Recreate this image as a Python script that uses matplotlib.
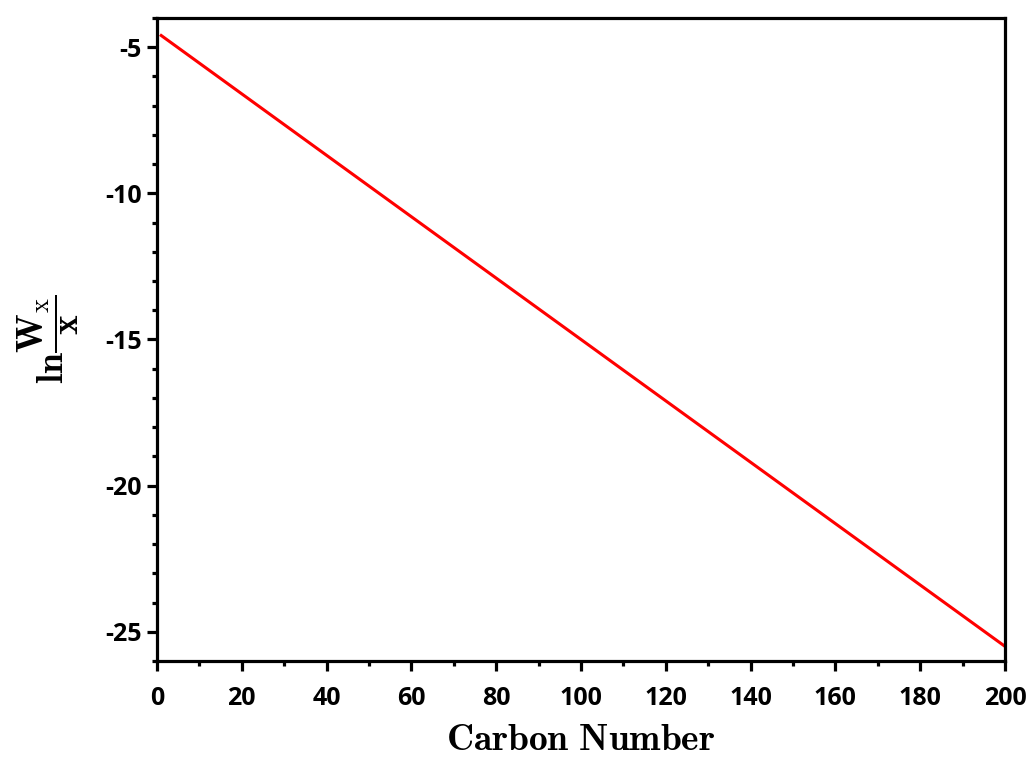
import matplotlib
matplotlib.use("Agg")
import matplotlib.pyplot as plt
from matplotlib.ticker import MultipleLocator

# values
carbon = [1, 50, 100, 150, 200]
lnw = [-4.6, -9.75, -15.0, -20.25, -25.5]

plt.rcParams['mathtext.fontset'] = 'cm'
plt.rcParams['axes.unicode_minus'] = False

fig = plt.figure(figsize=(10.28, 7.58), dpi=100)
ax = fig.add_axes([0.1527, 0.128, 0.8249, 0.8483])

ax.plot(carbon, lnw, color='#ff0000', lw=2.2)

ax.set_xlim(0, 200)
ax.set_ylim(-26, -4)
ax.xaxis.set_major_locator(MultipleLocator(20))
ax.xaxis.set_minor_locator(MultipleLocator(10))
ax.yaxis.set_major_locator(MultipleLocator(5))
ax.yaxis.set_minor_locator(MultipleLocator(1))

for s in ax.spines.values():
    s.set_linewidth(2.3)
ax.tick_params(which='major', direction='out', length=7, width=2.3, pad=4)
ax.tick_params(which='minor', direction='out', length=3.5, width=2.3)
ax.tick_params(axis='x', which='major', pad=11)

for lab in ax.get_xticklabels() + ax.get_yticklabels():
    lab.set_fontfamily('Open Sans')
    lab.set_fontweight('bold')
    lab.set_fontsize(18)

ax.set_xlabel(r'$\mathbf{Carbon\ Number}$', fontsize=27, labelpad=8)
ax.set_ylabel(r'$\mathbf{ln}\dfrac{\mathbf{W}_{\mathrm{x}}}{\mathbf{x}}$', fontsize=27, labelpad=17)

fig.savefig('out.png', dpi=100)
